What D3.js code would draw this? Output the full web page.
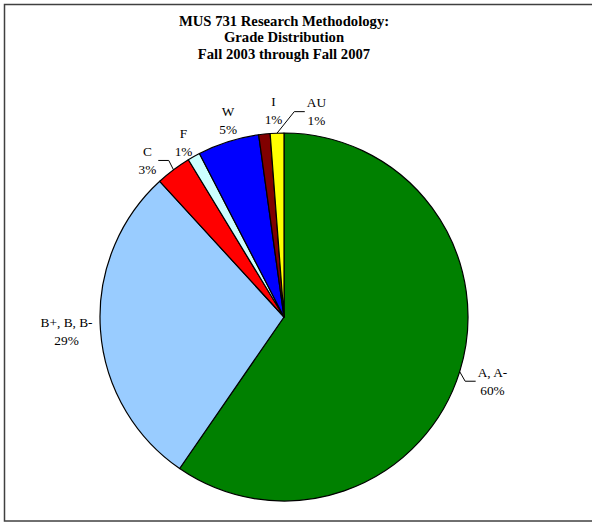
<!DOCTYPE html>
<html lang="en">
<head>
    <meta charset="UTF-8">
    <title>MUS 731 Grade Distribution</title>
    <style>
        body { margin: 0; background: #fff; }
        text { font-family: "Times New Roman", "Liberation Serif", serif; fill: #000; }
        .title { font-size: 14.67px; font-weight: bold; }
        .label { font-size: 13.33px; }
    </style>
</head>
<body>

    <svg width="592" height="523"></svg>

    <script src="https://d3js.org/d3.v7.min.js"></script>

    <script>

        // Chart data
        const categories = ['A, A-', 'B+, B, B-', 'C', 'F', 'W', 'I', 'AU'];
        const values = [59.6, 28.6, 3.1, 1.1, 5.4, 1.0, 1.2];
        const colors = ['#008000', '#99ccff', '#ff0000', '#ccffff', '#0000ff', '#800000', '#ffff00'];
        const titleLines = ['MUS 731 Research Methodology:', 'Grade Distribution', 'Fall 2003 through Fall 2007'];

        // Labels that were dragged away from their default spot (these get a leader line)
        const nudge = {
            'A, A-': [11, 2, true],
            'C': [-16, 11, true],
            'F': [-2, 8, false],
            'W': [5, 3, false],
            'I': [11, 2, false],
            'AU': [40, 4, true]
        };

        const svg = d3.select('svg');
        const cx = 284, cy = 317, radius = 184;
        const labelR = 192;

        // Frame round the chart
        svg.append('rect')
            .attr('x', 4.5)
            .attr('y', 4.5)
            .attr('width', 600)
            .attr('height', 516.5)
            .attr('fill', 'none')
            .attr('stroke', '#404040')
            .attr('stroke-width', 1.5);

        svg.append('g')
            .selectAll('text')
            .data(titleLines)
            .enter()
            .append('text')
            .attr('class', 'title')
            .attr('x', cx)
            .attr('y', function(d, i) { return 25.5 + i * 16.5; })
            .attr('text-anchor', 'middle')
            .text(function(d) { return d; });

        const data = categories.map(function(c, i) {
            return { name: c, value: values[i], color: colors[i] };
        });
        const total = d3.sum(values);

        const pie = d3.pie()
            .sort(null)
            .value(function(d) { return d.value; });

        const arc = d3.arc()
            .innerRadius(0)
            .outerRadius(radius);

        const arcs = pie(data);

        const group = svg.append('g')
            .attr('transform', 'translate(' + cx + ' ' + cy + ')');

        group.selectAll('path')
            .data(arcs)
            .enter()
            .append('path')
            .attr('d', arc)
            .attr('fill', function(d) { return d.data.color; })
            .attr('stroke', '#000')
            .attr('stroke-width', 1.2)
            .attr('stroke-linejoin', 'round');

        const pct = function(d) {
            return Math.round(d.data.value / total * 100) + '%';
        };

        const labels = group.selectAll('g.label-g')
            .data(arcs)
            .enter()
            .append('g');

        labels.each(function(d) {
            const g = d3.select(this);
            const mid = (d.startAngle + d.endAngle) / 2;
            const dx = Math.sin(mid), dy = -Math.cos(mid);

            const t = g.append('text')
                .attr('class', 'label')
                .attr('text-anchor', 'middle');
            const t1 = t.append('tspan').text(d.data.name);
            const t2 = t.append('tspan').text(pct(d));
            const w = Math.max(t1.node().getComputedTextLength(), t2.node().getComputedTextLength());

            const n = nudge[d.data.name] || [0, 0, false];
            const lx = dx * (labelR + w / 2) + n[0];
            const ly = dy * (labelR + 17.5) + n[1];

            t1.attr('x', lx).attr('y', ly - 4.5);
            t2.attr('x', lx).attr('y', ly + 13.5);

            if (n[2]) {
                const px = dx * radius, py = dy * radius;
                const edge = px > lx ? lx + w / 2 + 2 : lx - w / 2 - 2;
                const step = px > lx ? 10.5 : -10.5;
                g.append('polyline')
                    .attr('points', [[px, py], [edge + step, ly], [edge, ly]].map(function(p) { return p.join(','); }).join(' '))
                    .attr('fill', 'none')
                    .attr('stroke', '#000')
                    .attr('stroke-width', 1);
            }
        });

    </script>

</body>
</html>
